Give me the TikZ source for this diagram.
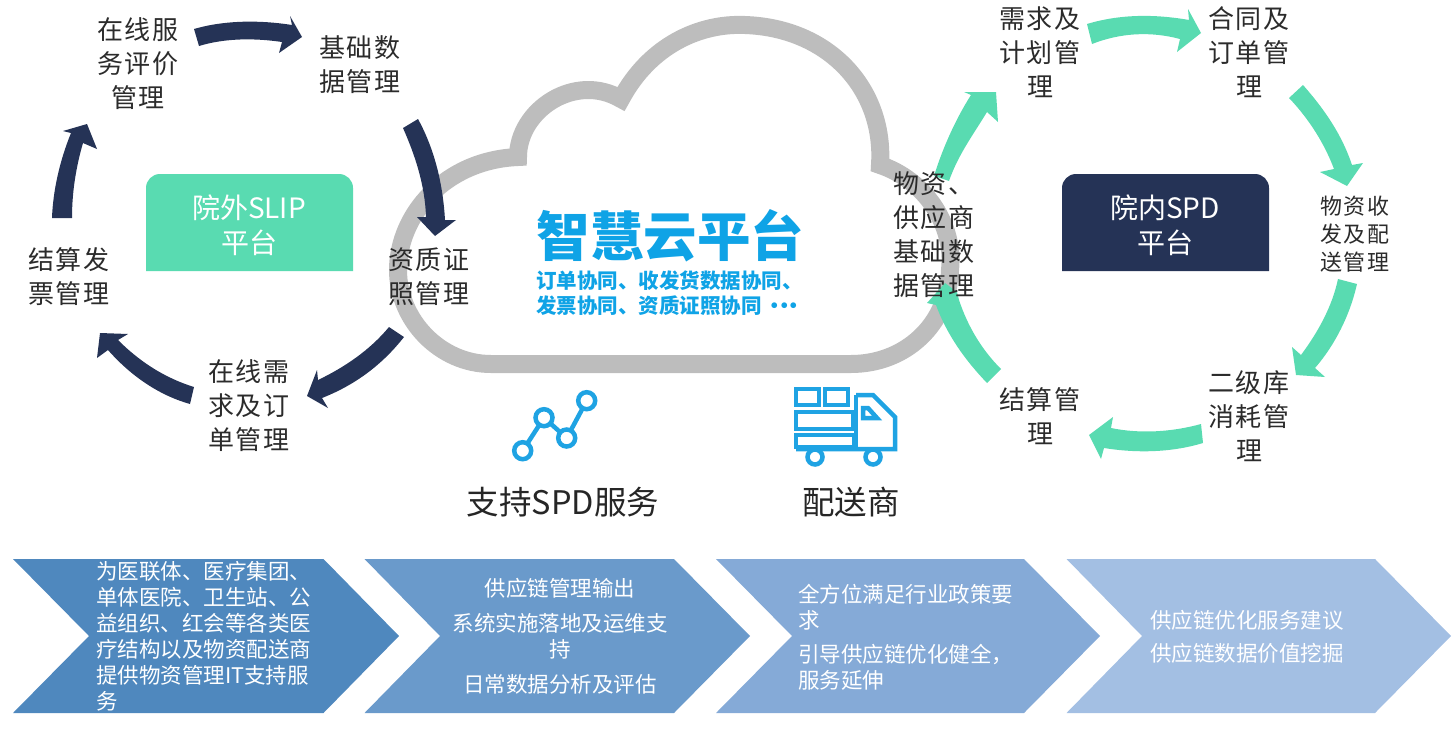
\documentclass[tikz,border=0pt]{standalone}
\usepackage{fontspec}
\setmainfont{Noto Sans CJK SC}
\newfontfamily\cjk[LetterSpace=7]{Noto Sans CJK SC}
\newfontfamily\cjktight{Noto Sans CJK SC}
\definecolor{navyc}{HTML}{253356}
\definecolor{mintc}{HTML}{59DBB1}
\definecolor{cloudc}{HTML}{BDBDBD}
\definecolor{skyc}{HTML}{0FA3E6}
\definecolor{iconc}{HTML}{1FA3E3}
\definecolor{cha}{HTML}{4F88BE}
\definecolor{chb}{HTML}{6A9ACB}
\definecolor{chc}{HTML}{85AAD7}
\definecolor{chd}{HTML}{A3BFE3}
\definecolor{labelc}{HTML}{2B2B2B}
\tikzset{
  navyarrow/.style={fill=navyc},
  mintarrow/.style={fill=mintc},
  lab/.style={inner sep=0pt,text=labelc,align=center,font={\cjk\fontsize{26}{34}\selectfont}},
  labsmall/.style={inner sep=0pt,text=labelc,align=center,font={\cjk\fontsize{22}{28}\selectfont}},
  boxlab/.style={inner sep=0pt,text=white,align=center,font={\cjktight\fontsize{28}{35}\selectfont}},
  chevtext/.style={inner sep=0pt,text=white,font={\cjktight\fontsize{21.5}{26}\selectfont}},
  captext/.style={inner sep=0pt,text=black!85,font={\cjktight\fontsize{32.5}{36}\selectfont}},
}
\begin{document}
\begin{tikzpicture}[x=1pt,y=-1pt]
\useasboundingbox (0,0) rectangle (1456,731);
% cloud
\draw[cloudc,line width=18pt,fill=white,miter limit=6]
  (491,364) .. controls (440,364) and (398,320) .. (398,270)
  .. controls (398,215) and (445,160) .. (518,157)
  .. controls (518,110) and (575,72) .. (621,99)
  .. controls (650,45) and (700,23) .. (745,25)
  .. controls (830,28) and (885,90) .. (880,165)
  .. controls (925,180) and (955,225) .. (950,270)
  .. controls (948,325) and (905,364) .. (851,364) -- cycle;
% left ring arrows
\fill[navyarrow] (194,29) .. controls (225,20) and (260,20) .. (292,25) -- (290,16) -- (302,37) -- (279,53) -- (282,42) .. controls (255,38) and (225,38) .. (199,46) -- cycle;
\fill[navyarrow] (403,128) -- (418,119) .. controls (435,150) and (443,185) .. (445,220) -- (456,220) -- (435,236) -- (417,217) -- (426,217) .. controls (425,185) and (415,155) .. (403,128) -- cycle;
\fill[navyarrow] (389,327) -- (404,337) .. controls (382,365) and (355,385) .. (322,398) -- (328,408) -- (307,396) -- (317,370) -- (318,380) .. controls (345,367) and (370,350) .. (389,327) -- cycle;
\fill[navyarrow] (194,387) -- (190,404) .. controls (158,395) and (130,375) .. (108,350) -- (97,358) -- (100,333) -- (128,334) -- (118,340) .. controls (140,362) and (165,378) .. (194,387) -- cycle;
\fill[navyarrow] (52,218) -- (72,218) .. controls (72,192) and (76,167) .. (83,143) -- (97,149) -- (87,124) -- (63,131) -- (71,133) .. controls (60,160) and (53,190) .. (52,218) -- cycle;
% right ring arrows
\fill[mintarrow] (1087,24) .. controls (1120,14) and (1155,14) .. (1189,20) -- (1188,9) -- (1201,33) -- (1177,52) -- (1180,39) .. controls (1150,31) and (1120,33) .. (1092,44) -- cycle;
\fill[mintarrow] (1289,98) -- (1303,85) .. controls (1325,110) and (1342,135) .. (1352,165) -- (1363,163) -- (1347,186) -- (1320,172) -- (1334,169) .. controls (1325,145) and (1310,120) .. (1289,98) -- cycle;
\fill[mintarrow] (1338,279) -- (1357,284) .. controls (1350,315) and (1335,345) .. (1315,368) -- (1325,377) -- (1296,375) -- (1292,347) -- (1301,355) .. controls (1318,332) and (1332,307) .. (1338,279) -- cycle;
\fill[mintarrow] (1201,424) -- (1203,443) .. controls (1170,453) and (1135,453) .. (1104,448) -- (1101,459) -- (1089,435) -- (1113,417) -- (1111,428) .. controls (1140,434) and (1172,432) .. (1201,424) -- cycle;
\fill[mintarrow] (1001,369) -- (987,383) .. controls (965,360) and (947,335) .. (936,305) -- (927,303) -- (945,283) -- (957,292) -- (959,300) .. controls (968,327) and (982,350) .. (1001,369) -- cycle;
\fill[mintarrow] (934,176) .. controls (942,150) and (955,120) .. (971,95) -- (964,92) -- (996,92) -- (998,122) -- (987,112) .. controls (973,135) and (958,155) .. (949,181) -- cycle;
% boxes
\fill[mintc] (146,271) [rounded corners=14pt] -- (146,174) -- (353,174) [sharp corners] -- (353,271) -- cycle;
\node[boxlab] (slip) at (249,225) {院外SLIP\\平台};
\fill[navyc] (1062,271) [rounded corners=14pt] -- (1062,174) -- (1269,174) [sharp corners] -- (1269,271) -- cycle;
\node[boxlab] (spd) at (1165,225) {院内SPD\\平台};
% ring labels
\node[lab] (l1) at (138,64) {在线服\\务评价\\管理};
\node[lab] (l2) at (360,64.5) {基础数\\据管理};
\node[lab] (l3) at (429,276.5) {资质证\\照管理};
\node[lab] (l4) at (249,406) {在线需\\求及订\\单管理};
\node[lab] (l5) at (69,276.5) {结算发\\票管理};
\node[lab] (r1) at (1040,52) {需求及\\计划管\\理};
\node[lab] (r2) at (1249,52) {合同及\\订单管\\理};
\node[labsmall] (r3) at (1355,234) {物资收\\发及配\\送管理};
\node[lab] (r4) at (1249,416) {二级库\\消耗管\\理};
\node[lab] (r5) at (1040,416) {结算管\\理};
\node[lab] (r6) at (934,235) {物资、\\供应商\\基础数\\据管理};
% title
\node[inner sep=0pt,text=skyc,font={\cjktight\bfseries\fontsize{53.5}{56}\selectfont}] (title) at (670.5,236) {智慧云平台};
\node[inner sep=0pt,anchor=west,text=skyc,align=left,font={\cjktight\bfseries\fontsize{20.5}{25}\selectfont}] (subt) at (536,293.5) {订单协同、收发货数据协同、\\发票协同、资质证照协同\kern3pt•\kern-11pt•\kern-11pt•};
% chart icon
\draw[iconc,line width=4.5pt] (522.7,450.7) -- (544,417.7) -- (566.7,438) -- (586.7,400.7);
\foreach \p in {(522.7,450.7),(544,417.7),(566.7,438),(586.7,400.7)}
  \draw[iconc,line width=4.5pt,fill=white] \p circle[radius=8.5];
% truck icon
\begin{scope}[iconc,line width=4.5pt]
\draw (796,389) rectangle (819,405);
\draw (825,389) rectangle (848,405);
\draw (796,412) rectangle (853,429);
\draw (796,435) rectangle (854,447);
\draw (856,395) -- (873,395) -- (895,417) -- (895,449) -- (796,449);
\draw (856,395) -- (856,449);
\draw (863,408) -- (868,408) -- (877,418) -- (863,418) -- cycle;
\draw[fill=white] (815,457) circle[radius=7.5];
\draw[fill=white] (873,457) circle[radius=7.5];
\end{scope}
\node[captext] (capa) at (563,502) {支持SPD服务};
\node[captext] (capb) at (851,502) {配送商};
% chevrons
\fill[cha] (13,559) -- (323.5,559) -- (399,636) -- (323.5,713) -- (13,713) -- (89,636) -- cycle;
\fill[chb] (364.5,559) -- (674,559) -- (750,636) -- (674,713) -- (364.5,713) -- (440,636) -- cycle;
\fill[chc] (716,559) -- (1024,559) -- (1100,636) -- (1024,713) -- (716,713) -- (792,636) -- cycle;
\fill[chd] (1066.5,559) -- (1375,559) -- (1451,636) -- (1375,713) -- (1066.5,713) -- (1142,636) -- cycle;
\node[chevtext,anchor=west,align=left] (ta) at (96,636) {为医联体、医疗集团、\\单体医院、卫生站、公\\益组织、红会等各类医\\疗结构以及物资配送商\\提供物资管理IT支持服\\务};
\node[chevtext,align=center] (tb1) at (560,588) {供应链管理输出};
\node[chevtext,align=center] (tb2) at (560,636) {系统实施落地及运维支\\持};
\node[chevtext,align=center] (tb3) at (560,684) {日常数据分析及评估};
\node[chevtext,anchor=west,align=left] (tc1) at (798,607.5) {全方位满足行业政策要\\求};
\node[chevtext,anchor=west,align=left] (tc2) at (798,667) {引导供应链优化健全，\\服务延伸};
\node[chevtext,anchor=west] (td1) at (1150,620) {供应链优化服务建议};
\node[chevtext,anchor=west] (td2) at (1150,653) {供应链数据价值挖掘};
\end{tikzpicture}
\end{document}
